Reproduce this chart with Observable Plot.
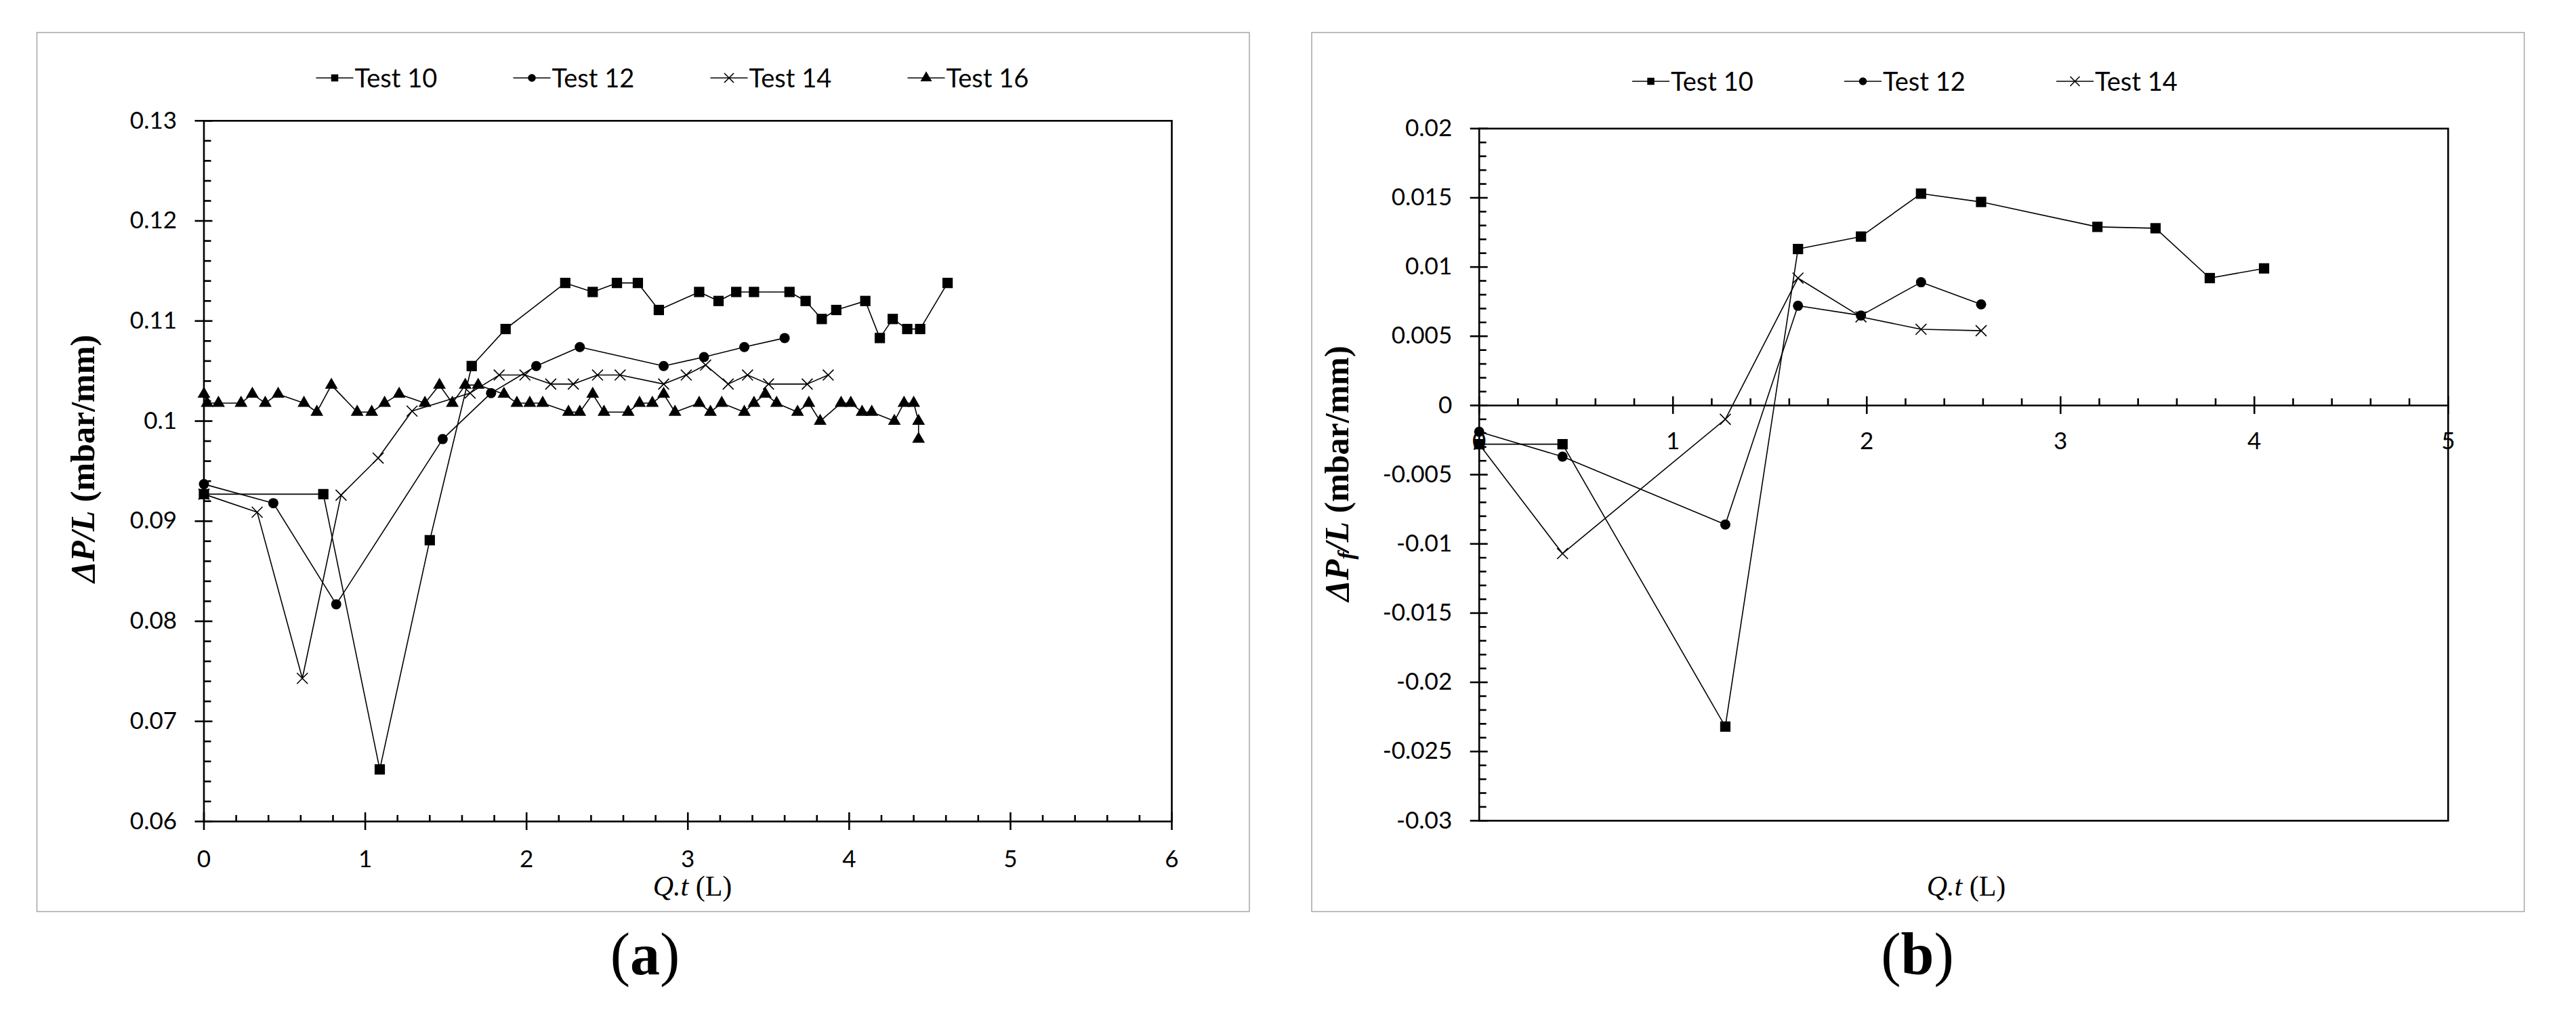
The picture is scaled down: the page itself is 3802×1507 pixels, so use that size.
<!DOCTYPE html>
<html>
<head>
<meta charset="utf-8">
<script src="https://cdn.jsdelivr.net/npm/d3@7"></script>
<script src="https://cdn.jsdelivr.net/npm/@observablehq/plot@0.6"></script>
<style>
html, body { margin: 0; padding: 0; background: #fff; }
#page { position: relative; width: 3802px; height: 1507px; overflow: hidden; background: #fff; }
#page > svg { position: absolute; top: 0; }
</style>
</head>
<body>
<div id="page"></div>
<script>
// ---------- Panel (a): ΔP/L vs Q.t ----------
const seriesNames = ["Test 10", "Test 12", "Test 14", "Test 16"];

const a10x = [0, 0.74, 1.09, 1.40, 1.66, 1.87, 2.24, 2.41, 2.56, 2.69, 2.82, 3.07, 3.19, 3.30, 3.41, 3.63, 3.73, 3.83, 3.92, 4.10, 4.19, 4.27, 4.36, 4.44, 4.61];
const a10y = [0.0927, 0.0927, 0.0652, 0.0881, 0.1055, 0.1092, 0.1138, 0.1129, 0.1138, 0.1138, 0.1111, 0.1129, 0.1120, 0.1129, 0.1129, 0.1129, 0.1120, 0.1102, 0.1111, 0.1120, 0.1083, 0.1102, 0.1092, 0.1092, 0.1138];

const a12x = [0, 0.43, 0.82, 1.48, 1.78, 2.06, 2.33, 2.85, 3.10, 3.35, 3.60];
const a12y = [0.0937, 0.0918, 0.0817, 0.0982, 0.1028, 0.1055, 0.1074, 0.1055, 0.1064, 0.1074, 0.1083];

const a14x = [0, 0.33, 0.61, 0.85, 1.08, 1.29, 1.65, 1.83, 1.99, 2.15, 2.29, 2.44, 2.58, 2.85, 2.99, 3.11, 3.25, 3.37, 3.50, 3.74, 3.87];
const a14y = [0.0927, 0.0909, 0.0743, 0.0926, 0.0963, 0.1010, 0.1028, 0.1046, 0.1046, 0.1037, 0.1037, 0.1046, 0.1046, 0.1037, 0.1046, 0.1056, 0.1037, 0.1046, 0.1037, 0.1037, 0.1046];

const a16x = [0, 0.02, 0.09, 0.23, 0.30, 0.38, 0.46, 0.62, 0.70, 0.79, 0.95, 1.04, 1.12, 1.21, 1.37, 1.46, 1.54, 1.62, 1.70, 1.86, 1.94, 2.02, 2.10, 2.26, 2.33, 2.41, 2.48, 2.63, 2.70, 2.78, 2.85, 2.92, 3.07, 3.14, 3.21, 3.35, 3.41, 3.48, 3.55, 3.68, 3.75, 3.82, 3.95, 4.01, 4.08, 4.14, 4.28, 4.34, 4.40, 4.43, 4.43];
const a16y = [0.1027, 0.1018, 0.1018, 0.1018, 0.1027, 0.1018, 0.1027, 0.1018, 0.1009, 0.1036, 0.1009, 0.1009, 0.1018, 0.1027, 0.1018, 0.1036, 0.1018, 0.1036, 0.1036, 0.1027, 0.1018, 0.1018, 0.1018, 0.1009, 0.1009, 0.1027, 0.1009, 0.1009, 0.1018, 0.1018, 0.1027, 0.1009, 0.1018, 0.1009, 0.1018, 0.1009, 0.1018, 0.1027, 0.1018, 0.1009, 0.1018, 0.1000, 0.1018, 0.1018, 0.1009, 0.1009, 0.1000, 0.1018, 0.1018, 0.1000, 0.0982];

const aXTicks = [0, 1, 2, 3, 4, 5, 6];
const aYTicks = [0.06, 0.07, 0.08, 0.09, 0.1, 0.11, 0.12, 0.13];

// ---------- Panel (b): ΔPf/L vs Q.t ----------
const b10x = [0, 0.43, 1.27, 1.645, 1.97, 2.28, 2.59, 3.19, 3.49, 3.77, 4.05];
const b10y = [-0.0028, -0.0028, -0.0232, 0.0113, 0.0122, 0.0153, 0.0147, 0.0129, 0.0128, 0.0092, 0.0099];

const b12x = [0, 0.43, 1.27, 1.645, 1.97, 2.28, 2.59];
const b12y = [-0.0019, -0.0037, -0.0086, 0.0072, 0.0065, 0.0089, 0.0073];

const b14x = [0, 0.43, 1.27, 1.645, 1.97, 2.28, 2.59];
const b14y = [-0.0028, -0.0107, -0.0010, 0.0092, 0.0064, 0.0055, 0.0054];

const bXTicks = [0, 1, 2, 3, 4, 5];
const bYTicks = [-0.03, -0.025, -0.02, -0.015, -0.01, -0.005, 0, 0.005, 0.01, 0.015, 0.02];

// ---------- helpers ----------
const fmt = d => String(+d.toFixed(4));
const rows = (xs, ys) => xs.map((x, i) => ({x, y: ys[i]}));
const minorTicks = (lo, step, n, every) => d3.range(0, n + 1).filter(i => i % every !== 0).map(i => +(lo + i * step).toFixed(6));

const symbolOf = {"Test 10": "square", "Test 12": "circle", "Test 14": "times", "Test 16": "triangle"};
const radiusOf = {square: 8.6, circle: 7.5, times: 7.3, triangle: 7.0};

function seriesMarks(list) {
  return list.flatMap(s => {
    const d = rows(s.x, s.y);
    const sym = symbolOf[s.name];
    const stroked = sym === "times";
    return [
      Plot.line(d, {x: "x", y: "y", stroke: "#000", strokeWidth: 1.6}),
      Plot.dot(d, {x: "x", y: "y", symbol: sym, r: radiusOf[sym],
        fill: stroked ? "none" : "#000", stroke: stroked ? "#000" : "none", strokeWidth: 1.6})
    ];
  });
}

const AX = 2.6; // axis line width
const page = document.getElementById("page");

// ---------- Plot (a) ----------
const seriesA = [
  {name: seriesNames[0], x: a10x, y: a10y},
  {name: seriesNames[1], x: a12x, y: a12y},
  {name: seriesNames[2], x: a14x, y: a14y},
  {name: seriesNames[3], x: a16x, y: a16y}
];
const plotA = Plot.plot({
  width: 1900, height: 1507,
  marginLeft: 300.5, marginRight: 171, marginTop: 177.8, marginBottom: 295,
  x: {domain: [0, 6], axis: null},
  y: {domain: [0.06, 0.13], axis: null},
  style: {fontFamily: "Lato", fontSize: "35px", color: "#000", background: "transparent", overflow: "visible"},
  marks: [
    Plot.frame({stroke: "#000", strokeWidth: AX}),
    Plot.axisY(minorTicks(0.06, 0.002, 35, 5), {anchor: "left", tickSize: 11, dx: 11, fill: "none", strokeWidth: AX, label: null}),
    Plot.axisY(aYTicks, {anchor: "left", tickSize: 26, dx: 13, fill: "none", strokeWidth: AX, label: null}),
    Plot.axisY(aYTicks, {anchor: "left", tickSize: 0, tickPadding: 40, tickFormat: fmt, label: null}),
    Plot.axisX(minorTicks(0, 0.2, 30, 5), {anchor: "bottom", tickSize: 9, dy: -9, fill: "none", strokeWidth: AX, label: null}),
    Plot.axisX(aXTicks, {anchor: "bottom", tickSize: 26, dy: -13, fill: "none", strokeWidth: AX, label: null}),
    Plot.axisX(aXTicks, {anchor: "bottom", tickSize: 0, tickPadding: 43, tickFormat: fmt, label: null}),
    ...seriesMarks(seriesA)
  ]
});
plotA.style.left = "0px";
page.appendChild(plotA);

// ---------- Plot (b) ----------
const seriesB = [
  {name: seriesNames[0], x: b10x, y: b10y},
  {name: seriesNames[1], x: b12x, y: b12y},
  {name: seriesNames[2], x: b14x, y: b14y}
];
const plotB = Plot.plot({
  width: 1902, height: 1507,
  marginLeft: 282.7, marginRight: 189.2, marginTop: 189.3, marginBottom: 296.1,
  x: {domain: [0, 5], axis: null},
  y: {domain: [-0.03, 0.02], axis: null},
  style: {fontFamily: "Lato", fontSize: "35px", color: "#000", background: "transparent", overflow: "visible"},
  marks: [
    Plot.frame({stroke: "#000", strokeWidth: AX}),
    Plot.axisY(minorTicks(-0.03, 0.001, 50, 5), {anchor: "left", tickSize: 11, dx: 11, fill: "none", strokeWidth: AX, label: null}),
    Plot.axisY(bYTicks, {anchor: "left", tickSize: 26, dx: 13, fill: "none", strokeWidth: AX, label: null}),
    Plot.axisY(bYTicks, {anchor: "left", tickSize: 0, tickPadding: 40, tickFormat: fmt, label: null}),
    Plot.ruleY([0], {stroke: "#000", strokeWidth: AX}),
    Plot.ruleX(minorTicks(0, 0.2, 25, 5), {x: d => d, y1: 0, y2: 0, insetTop: -10, insetBottom: 0, stroke: "#000", strokeWidth: AX}),
    Plot.ruleX(bXTicks, {x: d => d, y1: 0, y2: 0, insetTop: -13, insetBottom: -13, stroke: "#000", strokeWidth: AX}),
    Plot.text(bXTicks, {x: d => d, y: 0, text: d => fmt(d), dy: 40, lineAnchor: "top", fontSize: 35, fill: "#000"}),
    ...seriesMarks(seriesB)
  ]
});
plotB.style.left = "1900px";
page.appendChild(plotB);

// ---------- Overlay: panel borders, legends, titles, panel labels ----------
const ov = d3.select(page).append("svg")
  .attr("width", 3802).attr("height", 1507)
  .style("left", "0px").style("top", "0px");

ov.append("rect").attr("x", 54.5).attr("y", 48).attr("width", 1789.5).attr("height", 1297.5)
  .attr("fill", "none").attr("stroke", "#a6a6a6").attr("stroke-width", 1.5);
ov.append("rect").attr("x", 1936).attr("y", 48).attr("width", 1789.6).attr("height", 1297.5)
  .attr("fill", "none").attr("stroke", "#a6a6a6").attr("stroke-width", 1.5);

const legendSym = {
  "Test 10": d3.symbol(d3.symbolSquare, 110),
  "Test 12": d3.symbol(d3.symbolCircle, 105),
  "Test 14": d3.symbol(d3.symbolTimes, 130),
  "Test 16": d3.symbol(d3.symbolTriangle, 125)
};
function legend(names, x0, y, step) {
  names.forEach((name, i) => {
    const g = ov.append("g").attr("transform", `translate(${x0 + i * step},${y})`);
    g.append("line").attr("x1", 0).attr("x2", 55).attr("y1", 0).attr("y2", 0)
      .attr("stroke", "#000").attr("stroke-width", 1.6);
    const stroked = name === "Test 14";
    g.append("path").attr("d", legendSym[name]()).attr("transform", "translate(27.5,0)")
      .attr("fill", stroked ? "none" : "#000").attr("stroke", stroked ? "#000" : "none").attr("stroke-width", 1.6);
    g.append("text").attr("x", 57).attr("y", 0).attr("dy", "0.36em")
      .attr("font-family", "Lato").attr("font-size", 38).text(name);
  });
}
legend(seriesA.map(s => s.name), 466.5, 115, 291);
legend(seriesB.map(s => s.name), 2409, 120, 313);

function yTitle(cx, cy, sub) {
  const t = ov.append("text").attr("transform", `translate(${cx},${cy}) rotate(-90)`)
    .attr("text-anchor", "middle").attr("dy", "0.33em")
    .attr("font-family", "Liberation Serif").attr("font-weight", "bold").attr("font-size", 50);
  t.append("tspan").attr("font-style", "italic").text("ΔP");
  if (sub) t.append("tspan").attr("font-style", "italic").attr("font-size", 34).attr("dy", "0.25em").text(sub);
  t.append("tspan").attr("font-style", "italic").attr("dy", sub ? "-0.17em" : null).text("/L");
  t.append("tspan").text(" (mbar/mm)");
}
yTitle(122, 677, null);
yTitle(1973, 699, "f");

function xTitle(cx, by) {
  const t = ov.append("text").attr("x", cx).attr("y", by).attr("text-anchor", "middle")
    .attr("font-family", "Liberation Serif").attr("font-size", 42);
  t.append("tspan").attr("font-style", "italic").text("Q.t");
  t.append("tspan").text(" (L)");
}
xTitle(1022, 1322);
xTitle(2902, 1322);

function panelLabel(cx, by, letter) {
  const t = ov.append("text").attr("x", cx).attr("y", by).attr("text-anchor", "middle")
    .attr("font-family", "Liberation Serif").attr("font-size", 88);
  t.append("tspan").text("(");
  t.append("tspan").attr("font-weight", "bold").text(letter);
  t.append("tspan").text(")");
}
panelLabel(952, 1438, "a");
panelLabel(2830, 1438, "b");
</script>
</body>
</html>
